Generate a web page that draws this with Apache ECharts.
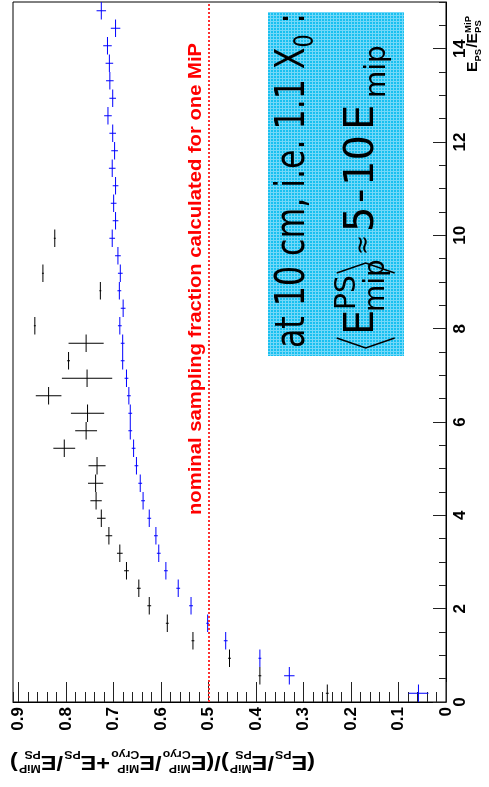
<!DOCTYPE html>
<html><head><meta charset="utf-8">
<script src="https://cdn.jsdelivr.net/npm/echarts@6/dist/echarts.min.js"></script>
<style>html,body{margin:0;padding:0;background:#fff}#c{width:489px;height:787px}</style>
</head><body><div id="c"></div>
<script>
// ---- data ----
const binCenters = [0.1875,0.5625,0.9375,1.3125,1.6875,2.0625,2.4375,2.8125,3.1875,3.5625,
  3.9375,4.3125,4.6875,5.0625,5.4375,5.8125,6.1875,6.5625,6.9375,7.3125,
  7.6875,8.0625,8.4375,8.8125,9.1875,9.5625,9.9375,10.3125,10.6875,11.0625,
  11.4375,11.8125,12.1875,12.5625,12.9375,13.3125,13.6875,14.0625,14.4375,14.8125];
const binHalfWidth = 0.1875;
const blueFrac = [0.058,0.330,0.392,0.464,0.502,0.537,0.564,0.590,0.605,0.611,
  0.625,0.638,0.644,0.652,0.658,0.665,0.665,0.668,0.673,0.681,
  0.681,0.687,0.680,0.688,0.686,0.691,0.703,0.696,0.700,0.696,
  0.703,0.698,0.702,0.712,0.702,0.708,0.709,0.713,0.696,0.726];
const blueErr = [0.021,0.011,0.003,0.004,0.003,0.004,0.004,0.004,0.004,0.004,
  0.004,0.004,0.004,0.004,0.004,0.004,0.004,0.004,0.004,0.004,
  0.004,0.004,0.005,0.004,0.005,0.006,0.006,0.006,0.006,0.006,
  0.007,0.007,0.007,0.008,0.007,0.008,0.008,0.009,0.010,0.010];
const blackBins = [0.1875,0.5625,0.9375,1.3125,1.6875,2.0625,2.4375,2.8125,3.1875,3.5625,
  3.9375,4.3125,4.6875,5.0625,5.4375,5.8125,6.1875,6.5625,6.9375,7.3125,
  7.6875,8.0625,8.8125,9.1875,9.9375];
const blackFrac = [0.250,0.392,0.456,0.533,0.587,0.625,0.647,0.673,0.687,0.710,
  0.726,0.737,0.738,0.735,0.804,0.758,0.755,0.837,0.756,0.795,
  0.758,0.866,0.728,0.849,0.824];
const blackErr = [0.003,0.003,0.003,0.003,0.003,0.004,0.004,0.005,0.006,0.007,
  0.009,0.012,0.016,0.018,0.023,0.023,0.035,0.027,0.053,0.003,
  0.037,0.002,0.002,0.002,0.002];
const nominalFraction = 0.5;
const fracTickLabels = ['0','0.1','0.2','0.3','0.4','0.5','0.6','0.7','0.8','0.9'];
const eTickLabels = ['0','2','4','6','8','10','12','14'];
const fracRange = [0, 0.912];
const eRange = [0, 15];

// ---- helpers ----
const cv = document.createElement('canvas');
const ctx = cv.getContext('2d');
function tw(t, font){ ctx.font = font; return ctx.measureText(t).width; }

// Build math-like text pieces laid along local x, baseline at y=0
function buildMath(parts, big, small, family, weight, color){
  const bf = weight+' '+big+'px '+family, sf = weight+' '+small+'px '+family;
  let x = 0; const ch = [];
  for (const p of parts){
    if (typeof p === 'string'){
      ch.push({type:'text', x:x, y:-0.33*big, style:{text:p, font:bf, fill:color, align:'left', verticalAlign:'middle'}});
      x += tw(p, bf);
    } else {
      let w = 0;
      if (p.sup){ ch.push({type:'text', x:x, y:-0.45*big-0.33*small, style:{text:p.sup, font:sf, fill:color, align:'left', verticalAlign:'middle'}}); w = Math.max(w, tw(p.sup, sf)); }
      if (p.sub){ ch.push({type:'text', x:x, y:0.22*big-0.33*small, style:{text:p.sub, font:sf, fill:color, align:'left', verticalAlign:'middle'}}); w = Math.max(w, tw(p.sub, sf)); }
      x += w + 1;
    }
  }
  return {children: ch, width: x};
}
function placed(m, x, y, rotation, targetLen){
  return {type:'group', x:x, y:y, rotation:rotation, scaleX: targetLen ? targetLen/m.width : 1, children:m.children, silent:true};
}

// pattern for the info box
const pc = document.createElement('canvas'); pc.width = 3; pc.height = 3;
const pctx = pc.getContext('2d');
pctx.fillStyle = '#18c0f0'; pctx.fillRect(0,0,3,3);
pctx.fillStyle = '#74d8f8'; pctx.fillRect(0,0,3,1); pctx.fillRect(0,0,1,3);

const chart = echarts.init(document.getElementById('c'), null, {renderer:'canvas'});

const errRender = (color) => function(params, api){
  const e = api.value(0), f = api.value(1), fe = api.value(2), hw = api.value(3);
  const l = api.coord([f-fe, e]), r = api.coord([f+fe, e]);
  const t = api.coord([f, e+hw]), b = api.coord([f, e-hw]);
  return {type:'group', children:[
    {type:'line', shape:{x1:l[0], y1:l[1], x2:r[0], y2:r[1]}, style:{stroke:color, lineWidth:1}},
    {type:'line', shape:{x1:t[0], y1:t[1], x2:b[0], y2:b[1]}, style:{stroke:color, lineWidth:1}}
  ]};
};

const FONT = '"Liberation Sans", Arial, sans-serif';
const labelStyle = {fontFamily: FONT, fontWeight:'bold', fontSize:17, color:'#000'};

// titles
const titleParts = ['(', 'E', {sub:'PS'}, '/', 'E', {sup:'MiP', sub:'PS'}, ')/(', 'E', {sup:'MiP', sub:'Cryo'}, '/', 'E', {sup:'MiP', sub:'Cryo'}, '+', 'E', {sub:'PS'}, '/', 'E', {sup:'MiP', sub:'PS'}, ')'];
const xTitle = buildMath(titleParts, 21, 11, FONT, 'bold', '#000');
const yTitle = buildMath(['E', {sub:'PS'}, '/', 'E', {sup:'MiP', sub:'PS'}], 15, 9, FONT, 'bold', '#000');
const redText = buildMath(['nominal sampling fraction calculated for one MiP'], 18, 10, FONT, 'bold', '#ff0000');
const BOXF = '"DejaVu Sans", sans-serif';
const line1 = buildMath(['at 10 cm, i.e. 1.1 X', {sub:'0'}, ' :'], 40, 26, BOXF, 'normal', '#000');

// line 2 manual layout (local coords, baseline y=0)
const f40 = 'normal 40px '+BOXF, f28 = 'normal 28px '+BOXF, f22 = 'normal 24px '+BOXF;
function t(x, y, s, font){ return {type:'text', x:x, y:y, style:{text:s, font:font, fill:'#000', align:'left', verticalAlign:'middle'}}; }
const line2 = {type:'group', x:376.7, y:350, rotation:Math.PI/2, silent:true, children:[
  {type:'polyline', shape:{points:[[12,-40],[2,-11],[12,18]]}, style:{stroke:'#000', lineWidth:1.5, fill:null}},
  t(15, -0.36*40, 'E', f40),
  t(40, -19-0.34*28, 'PS', f28),
  t(38, 10-0.34*28, 'mip', f28),
  {type:'polyline', shape:{points:[[77,-40],[87,-11],[77,18]]}, style:{stroke:'#000', lineWidth:1.5, fill:null}},
  t(95, -13, '\u2248', f22),
  t(118, -0.36*40, '5', f40),
  t(147, -0.36*40, '-', f40),
  t(164, -0.36*40, '10', f40),
  t(220, -0.36*40, 'E', f40),
  t(252, 11-0.34*28, 'mip', f28)
]};

const option = {
  animation:false,
  backgroundColor:'#fff',
  grid:{left:13, right:43, top:2, bottom:85, show:true, borderColor:'#000', borderWidth:1, backgroundColor:'transparent'},
  xAxis:[
    {type:'value', inverse:true, min:fracRange[0], max:fracRange[1], interval:0.1, position:'bottom',
     axisLine:{show:true, lineStyle:{color:'#000'}},
     axisTick:{show:true, inside:true, length:20, lineStyle:{color:'#222'}},
     splitLine:{show:false},
     axisLabel:{show:true, rotate:90, margin:5, showMaxLabel:false, ...labelStyle,
       formatter:(v)=>{ const i = Math.round(v/0.1); return Math.abs(v-i*0.1)<1e-6 ? (fracTickLabels[i]||'') : ''; }}},
    {type:'value', inverse:true, min:fracRange[0], max:fracRange[1], interval:0.02, position:'bottom',
     axisLine:{show:false}, axisTick:{show:true, inside:true, length:10, lineStyle:{color:'#222'}},
     axisLabel:{show:false}, splitLine:{show:false}}
  ],
  yAxis:[
    {type:'value', min:eRange[0], max:eRange[1], interval:2, position:'right',
     axisLine:{show:true, lineStyle:{color:'#000'}},
     axisTick:{show:true, inside:true, length:13, lineStyle:{color:'#222'}},
     splitLine:{show:false},
     axisLabel:{show:true, rotate:90, margin:6, showMaxLabel:false, ...labelStyle,
       formatter:(v)=>{ const i = Math.round(v/2); return Math.abs(v-i*2)<1e-6 ? (eTickLabels[i]||'') : ''; }}},
    {type:'value', min:eRange[0], max:eRange[1], interval:0.5, position:'right',
     axisLine:{show:false}, axisTick:{show:true, inside:true, length:7, lineStyle:{color:'#222'}},
     axisLabel:{show:false}, splitLine:{show:false}}
  ],
  series:[
    {type:'line', data:[], xAxisIndex:0, yAxisIndex:0, silent:true,
     markLine:{silent:true, symbol:'none', label:{show:false}, animation:false,
       lineStyle:{color:'#ff3030', width:2, type:[2,2]}, data:[{xAxis:nominalFraction}]}},
    {type:'custom', name:'black', xAxisIndex:0, yAxisIndex:0, renderItem:errRender('#000'),
     encode:{x:1, y:0}, data: blackBins.map((e,i)=>[e, blackFrac[i], blackErr[i], binHalfWidth])},
    {type:'custom', name:'blue', xAxisIndex:0, yAxisIndex:0, renderItem:errRender('#0000ff'),
     encode:{x:1, y:0}, data: binCenters.map((e,i)=>[e, blueFrac[i], blueErr[i], binHalfWidth])}
  ],
  graphic:[
    {type:'rect', shape:{x:268, y:12, width:136, height:344}, style:{fill:{image:pc, repeat:'repeat'}}, silent:true, z:0},
    placed(line1, 306.5, 348, Math.PI/2, 335),
    line2,
    placed(redText, 201.5, 515, Math.PI/2, 472),
    placed(yTitle, 478, 72, Math.PI/2, 57),
    placed(xTitle, 315, 755, Math.PI, 305)
  ]
};
chart.setOption(option);
</script></body></html>
